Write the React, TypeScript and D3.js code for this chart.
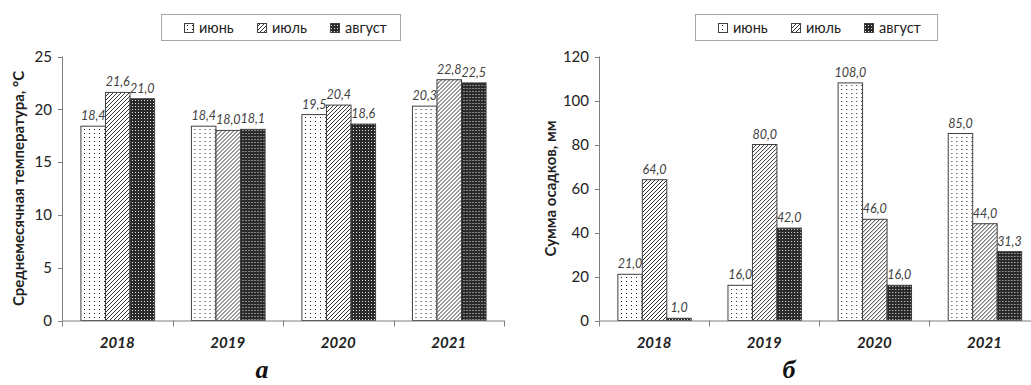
import React from "react";
import * as d3 from "d3";

// Data
const years = ["2018", "2019", "2020", "2021"];
const months = ["июнь", "июль", "август"];

const tempJune = [18.4, 18.4, 19.5, 20.3];
const tempJuly = [21.6, 18.0, 20.4, 22.8];
const tempAug = [21.0, 18.1, 18.6, 22.5];

const rainJune = [21.0, 16.0, 108.0, 85.0];
const rainJuly = [64.0, 80.0, 46.0, 44.0];
const rainAug = [1.0, 42.0, 16.0, 31.3];

const tempTicks = [0, 5, 10, 15, 20, 25];
const rainTicks = [0, 20, 40, 60, 80, 100, 120];

const W = 1031;
const H = 385;
const FONT = "Lato, 'Open Sans', sans-serif";
const fills = ["url(#pJune)", "url(#pJuly)", "url(#pAug)"];
const fmt = (v: number) => v.toFixed(1).replace(".", ",");

type PanelProps = {
  series: number[][];
  yMax: number;
  ticks: number[];
  x0: number;
  x1: number;
  yTitle: string;
  titleX: number;
  legendX: number;
  legendW: number;
  letter: string;
  letterX: number;
};

function Panel(p: PanelProps) {
  const yBase = 320.5;
  const yTop = 56.5;
  const x = d3.scaleBand<string>().domain(years).range([p.x0, p.x1]).padding(0);
  const xm = d3
    .scaleBand<string>()
    .domain(months)
    .range([0, x.bandwidth()])
    .paddingInner(0)
    .paddingOuter(0.75);
  const y = d3.scaleLinear().domain([0, p.yMax]).range([yBase, yTop]);
  const midY = (yBase + yTop) / 2;

  // legend item offsets inside the box
  const legendItems = [
    { dx: 23, label: months[0] },
    { dx: 96, label: months[1] },
    { dx: 169, label: months[2] },
  ];

  return (
    <g>
      {/* legend */}
      <rect
        x={p.legendX + 0.5}
        y={14.5}
        width={p.legendW}
        height={26}
        fill="#fff"
        stroke="#a6a6a6"
      />
      {legendItems.map((it, i) => (
        <g key={it.label}>
          <rect
            x={p.legendX + it.dx + 0.5}
            y={23.5}
            width={9}
            height={9}
            fill={fills[i]}
            stroke="#404040"
          />
          <text
            x={p.legendX + it.dx + 15}
            y={32.5}
            fontFamily={FONT}
            fontSize={14.5}
            fill="#222"
          >
            {it.label}
          </text>
        </g>
      ))}

      {/* y axis */}
      <line x1={p.x0 + 0.5} x2={p.x0 + 0.5} y1={yTop} y2={yBase} stroke="#7f7f7f" />
      {p.ticks.map((t) => (
        <g key={t}>
          <line
            x1={p.x0 - 4}
            x2={p.x0 + 0.5}
            y1={Math.round(y(t)) + 0.5}
            y2={Math.round(y(t)) + 0.5}
            stroke="#7f7f7f"
          />
          <text
            x={p.x0 - 10}
            y={y(t)}
            dy="0.35em"
            textAnchor="end"
            fontFamily={FONT}
            fontSize={15}
            fill="#222"
          >
            {t}
          </text>
        </g>
      ))}
      <text
        transform={`translate(${p.titleX},${midY}) rotate(-90)`}
        textAnchor="middle"
        dy="0.35em"
        fontFamily={FONT}
        fontWeight="bold"
        fontSize={15}
        fill="#222"
      >
        {p.yTitle}
      </text>

      {/* bars */}
      {years.map((yr, i) => (
        <g key={yr} transform={`translate(${x(yr)},0)`}>
          {months.map((m, j) => {
            const v = p.series[j][i];
            const bx = (xm(m) as number) + 0.5;
            const by = y(v);
            return (
              <g key={m}>
                <rect
                  x={bx}
                  y={by}
                  width={xm.bandwidth()}
                  height={yBase - by}
                  fill={fills[j]}
                  stroke="#404040"
                  strokeWidth={1}
                />
                <text
                  x={bx + xm.bandwidth() / 2}
                  y={by - 6}
                  textAnchor="middle"
                  fontFamily={FONT}
                  fontStyle="italic"
                  fontSize={12.5}
                  fill="#404040"
                >
                  {fmt(v)}
                </text>
              </g>
            );
          })}
        </g>
      ))}

      {/* x axis */}
      <line x1={p.x0} x2={p.x1} y1={yBase + 0.5} y2={yBase + 0.5} stroke="#7f7f7f" />
      {[...years.map((yr) => x(yr) as number), p.x1].map((tx, k) => (
        <line
          key={k}
          x1={Math.round(tx) + 0.5}
          x2={Math.round(tx) + 0.5}
          y1={yBase}
          y2={yBase + 6}
          stroke="#7f7f7f"
        />
      ))}
      {years.map((yr) => (
        <text
          key={yr}
          x={(x(yr) as number) + x.bandwidth() / 2}
          y={348}
          textAnchor="middle"
          fontFamily={FONT}
          fontWeight="bold"
          fontStyle="italic"
          fontSize={15}
          fill="#222"
        >
          {yr}
        </text>
      ))}

      {/* panel letter */}
      <text
        x={p.letterX}
        y={378}
        textAnchor="middle"
        fontFamily="'Liberation Serif', 'DejaVu Serif', serif"
        fontWeight="bold"
        fontStyle="italic"
        fontSize={26}
        fill="#111"
      >
        {p.letter}
      </text>
    </g>
  );
}

export default function App() {
  return (
    <svg
      width={W}
      height={H}
      style={{ position: "absolute", left: 0, top: 0, background: "#fff" }}
    >
      <defs>
        <pattern id="pJune" patternUnits="userSpaceOnUse" width={5} height={4}>
          <rect width={5} height={4} fill="#fff" />
          <rect x={2} y={1} width={1} height={1} fill="#222" />
        </pattern>
        <pattern id="pJuly" patternUnits="userSpaceOnUse" width={4} height={4}>
          <rect width={4} height={4} fill="#fff" />
          <path d="M-1,1 l2,-2 M0,4 l4,-4 M3,5 l2,-2" stroke="#333" strokeWidth={1} />
        </pattern>
        <pattern id="pAug" patternUnits="userSpaceOnUse" width={3} height={3}>
          <rect width={3} height={3} fill="#2a2a2a" />
          <rect x={1} y={1} width={1} height={1} fill="#e0e0e0" />
        </pattern>
      </defs>
      <rect width={W} height={H} fill="#fff" />
      <Panel
        series={[tempJune, tempJuly, tempAug]}
        yMax={25}
        ticks={tempTicks}
        x0={62}
        x1={504}
        yTitle="Среднемесячная температура, °С"
        titleX={19}
        legendX={161}
        legendW={239}
        letter="а"
        letterX={262}
      />
      <Panel
        series={[rainJune, rainJuly, rainAug]}
        yMax={120}
        ticks={rainTicks}
        x0={599}
        x1={1039.5}
        yTitle="Сумма осадков, мм"
        titleX={551}
        legendX={695}
        legendW={242}
        letter="б"
        letterX={789}
      />
    </svg>
  );
}
